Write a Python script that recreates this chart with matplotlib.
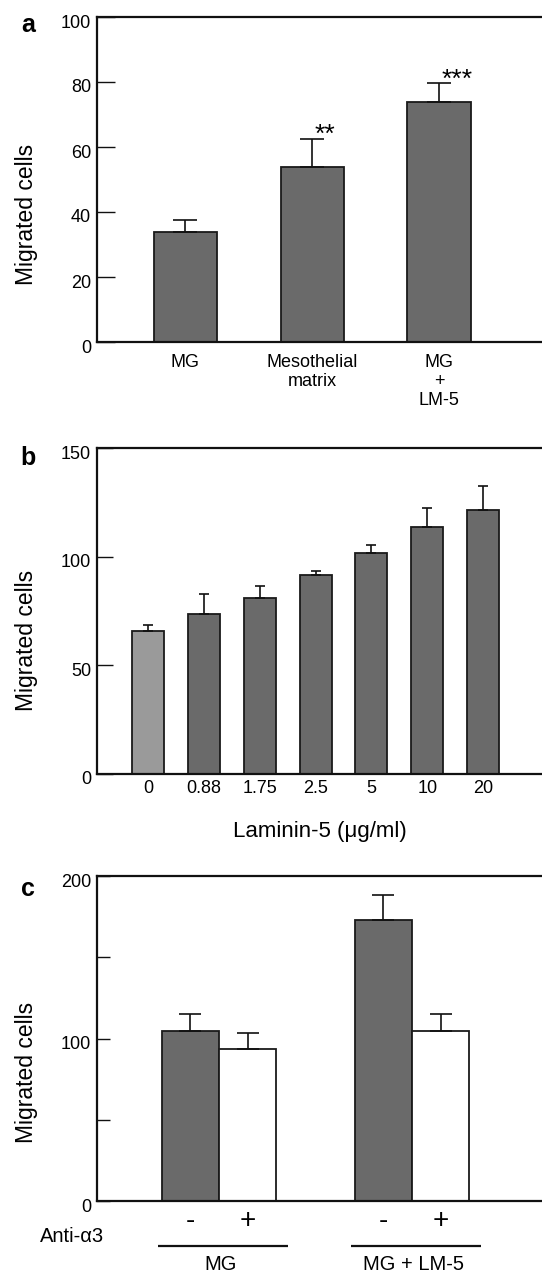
import matplotlib
matplotlib.use("Agg")
import matplotlib.pyplot as plt
import matplotlib.transforms as mtransforms
import numpy as np

plt.rcParams['font.family'] = ['Liberation Sans', 'DejaVu Sans']

# ---------------- data ----------------
a_categories = ["MG", "Mesothelial\nmatrix", "MG\n+\nLM-5"]
a_values = [34, 54, 73.7]
a_errors = [3.5, 8.5, 5.9]
a_stars = ["", "**", "***"]

b_categories = ["0", "0.88", "1.75", "2.5", "5", "10", "20"]
b_values = [66.0, 73.5, 80.9, 91.6, 101.6, 113.8, 121.5]
b_errors = [2.6, 9.4, 5.7, 2.0, 4.0, 8.7, 11.0]

c_groups = ["MG", "MG + LM-5"]
c_antibody = ["-", "+"]
c_minus_values = [104.4, 172.7]
c_minus_errors = [10.9, 15.6]
c_plus_values = [93.3, 104.4]
c_plus_errors = [9.9, 10.9]

# ---------------- style ----------------
W, H = 542, 1275
DPI = 100
DARK = "#6a6a6a"
LIGHT = "#9a9a9a"
EDGE = "#1a1a1a"
TICKFS = 13

fig = plt.figure(figsize=(W / DPI, H / DPI), dpi=DPI)

def px_axes(left, top, bottom):
    return fig.add_axes([left / W, 1 - bottom / H, 1 - left / W, (bottom - top) / H])

def style_axes(ax, ticklen):
    ax.spines['right'].set_visible(False)
    for s in ('left', 'top', 'bottom'):
        ax.spines[s].set_linewidth(1.6)
        ax.spines[s].set_color("#111111")
    ax.tick_params(axis='y', direction='in', length=ticklen, width=1.0,
                   labelsize=TICKFS, pad=4.3, color="#111111")
    ax.tick_params(axis='x', length=0, labelsize=TICKFS)
    off = mtransforms.ScaledTranslation(0, -4 / DPI, fig.dpi_scale_trans)
    for lab in ax.get_yticklabels():
        lab.set_transform(lab.get_transform() + off)

# ---------------- panel a ----------------
axa = px_axes(97, 17, 342)
xa = np.arange(len(a_categories))
axa.bar(xa, a_values, width=0.50, color=DARK, edgecolor=EDGE, linewidth=1.3, zorder=2)
axa.errorbar(xa, a_values, yerr=[np.zeros(len(a_errors)), a_errors], fmt='none',
             ecolor='#111111', elinewidth=1.2, capsize=8.6, capthick=1.2, zorder=3)
for x, v, e, s in zip(xa, a_values, a_errors, a_stars):
    if s:
        axa.text(x + 0.02, v + e - 1.0, s, ha='left', va='baseline', fontsize=19)
axa.set_xlim(-0.698, 2.813)
axa.set_ylim(0, 100)
axa.set_yticks([0, 20, 40, 60, 80, 100])
axa.set_xticks(xa)
axa.set_xticklabels(a_categories, linespacing=1.15)
axa.tick_params(axis='x', pad=8.6)
style_axes(axa, 13)

# ---------------- panel b ----------------
axb = px_axes(97, 448.3, 774)
xb = np.arange(len(b_categories))
colors_b = [LIGHT] + [DARK] * (len(b_categories) - 1)
axb.bar(xb, b_values, width=0.574, color=colors_b, edgecolor=EDGE, linewidth=1.3, zorder=2)
axb.errorbar(xb, b_values, yerr=[np.zeros(len(b_errors)), b_errors], fmt='none',
             ecolor='#111111', elinewidth=1.2, capsize=3.8, capthick=1.2, zorder=3)
axb.set_xlim(-0.92, 7.058)
axb.set_ylim(0, 150)
axb.set_yticks([0, 50, 100, 150])
axb.set_xticks(xb)
axb.set_xticklabels(b_categories)
axb.tick_params(axis='x', pad=4.5)
style_axes(axb, 11.5)
fig.text(320 / W, 1 - 832 / H, "Laminin-5 (\u03bcg/ml)", ha='center', va='center', fontsize=16)

# ---------------- panel c ----------------
axc = px_axes(97, 876, 1201)
xc = np.arange(len(c_groups))
off = 0.1485
bw = 0.297
axc.bar(xc - off, c_minus_values, width=bw, color=DARK, edgecolor=EDGE, linewidth=1.3, zorder=2)
axc.bar(xc + off, c_plus_values, width=bw, color="white", edgecolor=EDGE, linewidth=1.3, zorder=2)
axc.errorbar(xc - off, c_minus_values, yerr=[np.zeros(2), c_minus_errors], fmt='none',
             ecolor='#111111', elinewidth=1.2, capsize=7.8, capthick=1.2, zorder=3)
axc.errorbar(xc + off, c_plus_values, yerr=[np.zeros(2), c_plus_errors], fmt='none',
             ecolor='#111111', elinewidth=1.2, capsize=7.8, capthick=1.2, zorder=3)
axc.set_xlim(-0.632, 1.674)
axc.set_ylim(0, 200)
axc.set_yticks([0, 50, 100, 150, 200])
axc.set_yticklabels(["0", "", "100", "", "200"])
axc.set_xticks([])
style_axes(axc, 9.5)

trc = axc.get_xaxis_transform()
y_sign = (1201 - 1221) / 325.0
y_line = (1201 - 1246) / 325.0
y_grp = (1201 - 1265) / 325.0
for g, name in zip(xc, c_groups):
    for dx, sym in zip((-off, off), c_antibody):
        axc.text(g + dx, y_sign, sym, transform=trc, ha='center', va='center',
                 fontsize=20, clip_on=False)
    axc.plot([g - 0.318, g + 0.356], [y_line, y_line], transform=trc, color='#111111',
             linewidth=1.6, clip_on=False, solid_capstyle='butt')
    axc.text(g + 0.01, y_grp, name, transform=trc, ha='center', va='center',
             fontsize=14.5, clip_on=False)
fig.text(72 / W, 1 - 1237 / H, "Anti-\u03b13", ha='center', va='center', fontsize=14.5)

# ---------------- shared labels ----------------
for yc in (214, 640, 1072):
    fig.text(27 / W, 1 - yc / H, "Migrated cells", rotation=90, ha='center', va='center',
             fontsize=16.5)
for letter, yb in (("a", 32), ("b", 465), ("c", 896)):
    fig.text(28 / W, 1 - yb / H, letter, ha='center', va='baseline', fontsize=18,
             fontweight='bold')

fig.savefig("out.png", dpi=DPI)
